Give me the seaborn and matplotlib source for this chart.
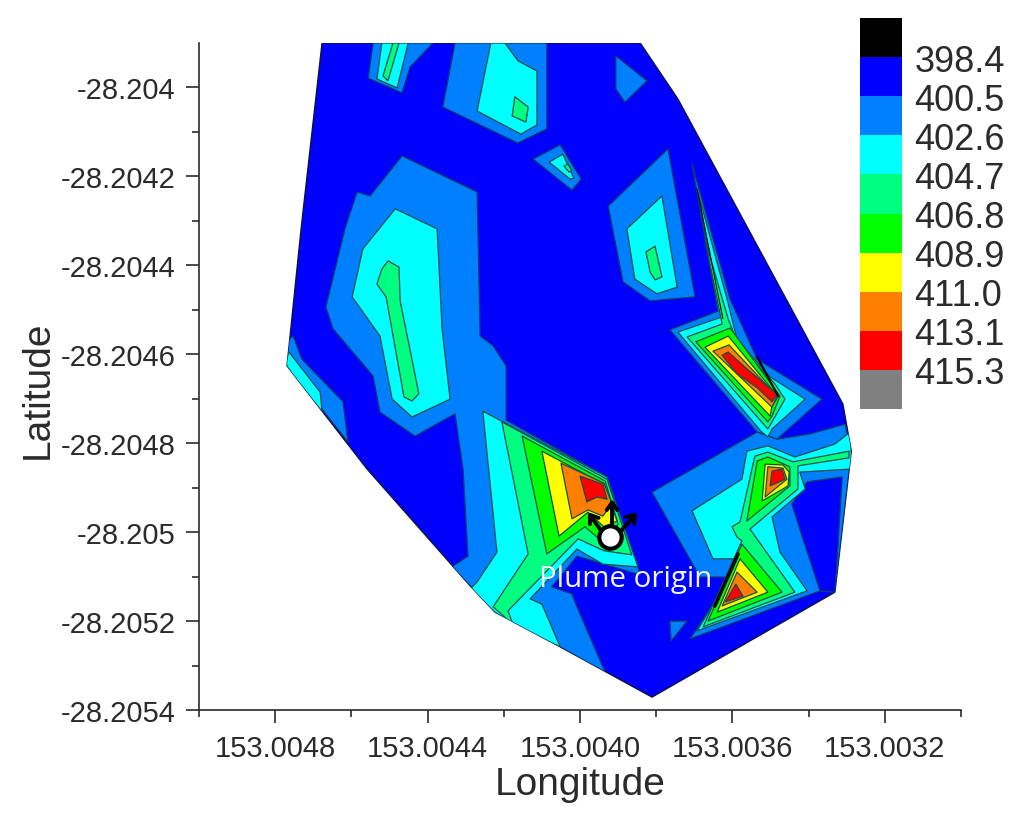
import numpy as np
import pandas as pd
import seaborn as sns
import matplotlib
matplotlib.use("Agg")
import matplotlib.pyplot as plt
from matplotlib.colors import ListedColormap, BoundaryNorm
from matplotlib.patches import Polygon
from matplotlib.ticker import FixedLocator, FixedFormatter

# All outlines: x = microdegrees east of 153 E, y = microdegrees south of 28.2 S
level_ticks = [398.4, 400.5, 402.6, 404.7, 406.8, 408.9, 411.0, 413.1, 415.3]
band_colors = ["#0000ff", "#0080ff", "#00ffff", "#00ff80", "#00ff00", "#ffff00", "#ff8000", "#ff0000"]
below_color, above_color = "#000000", "#808080"

lon_ticks = [153.0048, 153.0044, 153.0040, 153.0036, 153.0032]
lat_ticks = [-28.204, -28.2042, -28.2044, -28.2046, -28.2048, -28.205, -28.2052, -28.2054]
lat_labels = ["-28.204", "-28.2042", "-28.2044", "-28.2046", "-28.2048", "-28.205", "-28.2052", "-28.2054"]

hull_x = [4677, 3842, 3743, 3310, 3288, 3331, 3811, 4052, 4223, 4288, 4559, 4769, 4732]
hull_y = [3900, 3900, 4026, 4712, 4818, 5135, 5371, 5258, 5180, 5121, 4858, 4626, 4318]

# each zone: (band index, x list, y list), listed from the lowest band up
a_mid = (1, [4543, 4556, 4467, 4446, 4386], [3900, 3979, 4012, 3954, 3900])
b_mid = (1, [4328, 4360, 4163, 4087, 4087], [3900, 4044, 4125, 4093, 3900])
c_mid = (1, [4123, 4052, 3997, 4021], [4161, 4129, 4206, 4231])
d_mid = (1, [3906, 3824, 3882, 3906], [3929, 3985, 4033, 4003])
e_mid = (1, [3769, 3926, 3887, 3816, 3698], [4138, 4267, 4437, 4480, 4471])
f_mid = (1, [4467, 4270, 4268, 4262, 4228, 4194, 4194, 3929, 3908, 3848, 3842, 4008, 4074, 4021, 4008, 3934,
             4052, 4176, 4223, 4288, 4336, 4294, 4307, 4328, 4433, 4525, 4543, 4648, 4667, 4617, 4585, 4551],
         [4154, 4235, 4318, 4559, 4581, 4626, 4748, 4876, 4937, 5078, 5096, 5054, 5123, 5139, 5168, 5315,
          5258, 5207, 5180, 5121, 5078, 5054, 4858, 4734, 4784, 4730, 4649, 4543, 4494, 4318, 4235, 4244])
g_mid = (1, [4753, 4730, 4622, 4609, 4769, 4777], [4559, 4611, 4707, 4797, 4626, 4577])
n_mid = (1, [3706, 3606, 3535, 3365, 3483, 3535, 3764, 3638], [4172, 4476, 4611, 4701, 4791, 4775, 4545, 4503])
p_mid = (1, [3535, 3811, 3685, 3601, 3711, 3370, 3331, 3288, 3304, 3396, 3483],
         [4775, 4910, 5101, 5101, 5240, 5132, 5135, 4820, 4757, 4779, 4791])
q_mid = (1, [3764, 3719, 3761], [5200, 5200, 5245])
p_low = (0, [3404, 3312, 3323, 3331, 3370, 3415, 3444], [4887, 4876, 5031, 5135, 5132, 5015, 4937])

a_cyan = (2, [4520, 4533, 4480, 4451], [3900, 3981, 4001, 3900])
b_cyan = (2, [4234, 4270, 4155, 4113, 4113, 4163, 4197], [3900, 4053, 4105, 4084, 3963, 3940, 3900])
c_cyan = (2, [4081, 4045, 4016, 4026], [4168, 4150, 4204, 4206])
e_cyan = (2, [3785, 3877, 3856, 3798, 3745], [4244, 4318, 4431, 4464, 4449])
f_cyan = (2, [4485, 4375, 4362, 4341, 4441, 4493, 4525, 4598, 4570], [4273, 4318, 4543, 4701, 4741, 4701, 4559, 4471, 4363])
g_cyan = (2, [4764, 4682, 4677, 4777], [4595, 4685, 4728, 4629])
h_cyan = (2, [4255, 3929, 3848, 3940, 4008, 4131, 4100, 4052, 4176, 4223, 4288, 4270, 4218],
          [4728, 4876, 5078, 5072, 5038, 5150, 5162, 5258, 5207, 5180, 5128, 5112, 5045])
n_cyan = (2, [3743, 3627, 3693, 3614, 3588, 3501, 3409, 3496, 3507, 3525],
          [4550, 4516, 4228, 4476, 4566, 4651, 4701, 4768, 4786, 4773])
r_cyan = (2, [3706, 3575, 3562, 3507, 3436, 3331, 3291, 3286, 3423, 3409, 3496, 3475, 3404, 3693, 3593, 3585, 3651],
          [4952, 4881, 4818, 4806, 4831, 4802, 4775, 4858, 4865, 4903, 4966, 5045, 5132, 5222, 5083, 5060, 5060])

a_spring = (3, [4491, 4475, 4504, 4517], [3900, 3900, 3985, 3974])
b_spring = (3, [4171, 4178, 4142, 4136], [4021, 4064, 4078, 4044])
c_spring = (3, [4042, 4032, 4021, 4029], [4177, 4172, 4188, 4190])
e_spring = (3, [3803, 3827, 3816, 3803, 3785], [4357, 4370, 4415, 4433, 4426])
f_spring = (3, [4504, 4475, 4472, 4423, 4441, 4462, 4509, 4533, 4520], [4390, 4404, 4480, 4689, 4705, 4696, 4471, 4442, 4408])
g_spring = (3, [4769, 4753, 4769, 4787], [4626, 4649, 4656, 4626])
i_spring = (3, [4205, 4136, 4228, 4176, 4189, 4005, 3937, 3864, 3929], [4752, 5049, 5168, 5207, 5177, 5015, 5042, 5051, 4881])
n_spring = (3, [3719, 3627, 3672, 3611, 3585, 3488, 3462, 3496, 3507], [4561, 4532, 4341, 4521, 4577, 4667, 4701, 4752, 4768])
s_spring = (3, [3541, 3507, 3441, 3294, 3294, 3428, 3428, 3554, 3436, 3677, 3575, 3588, 3601, 3580],
            [4829, 4820, 4842, 4818, 4833, 4851, 4903, 4993, 5135, 5213, 5020, 5011, 4988, 4977])

j_green = (4, [4152, 4087, 3987, 3934, 3900, 3934], [4784, 5049, 4988, 5027, 4982, 4885])
n_green = (4, [3696, 3606, 3475, 3496, 3507], [4572, 4541, 4694, 4739, 4752])
t_green = (4, [3535, 3507, 3449, 3449, 3562], [4840, 4831, 4853, 4896, 4975])
u_green = (4, [3575, 3470, 3664], [5027, 5135, 5200])

k_yellow = (5, [4100, 4055, 3979, 3937, 3903, 3937], [4818, 5009, 4955, 4988, 4975, 4892])
n_yellow = (5, [3672, 3611, 3480, 3496, 3501], [4584, 4559, 4696, 4716, 4739])
t_yellow = (5, [3514, 3467, 3451, 3454, 3522], [4847, 4849, 4865, 4896, 4930])
u_yellow = (5, [3580, 3507, 3640], [5060, 5135, 5180])

l_orange = (6, [4050, 4021, 3979, 3940, 3916, 3937], [4845, 4970, 4950, 4964, 4937, 4890])
n_orange = (6, [3651, 3609, 3483, 3496], [4593, 4579, 4694, 4719])
t_orange = (6, [3507, 3467, 3457, 3514], [4853, 4856, 4881, 4921])
u_orange = (6, [3588, 3535, 3627], [5090, 5135, 5166])

m_red = (7, [4000, 3982, 3955, 3929, 3940], [4874, 4932, 4921, 4926, 4892])
n_red = (7, [3627, 3611, 3555, 3483, 3496, 3535, 3588], [4602, 4595, 4638, 4690, 4707, 4675, 4644])
t_red = (7, [3496, 3470, 3462, 3501], [4863, 4858, 4881, 4896])
u_red = (7, [3591, 3572, 3619], [5117, 5144, 5157])

zones = [a_mid, b_mid, c_mid, d_mid, e_mid, f_mid, g_mid, n_mid, p_mid, q_mid, p_low,
         a_cyan, b_cyan, c_cyan, e_cyan, f_cyan, g_cyan, h_cyan, n_cyan, r_cyan,
         a_spring, b_spring, c_spring, e_spring, f_spring, g_spring, i_spring, n_spring, s_spring,
         j_green, n_green, t_green, u_green,
         k_yellow, n_yellow, t_yellow, u_yellow,
         l_orange, n_orange, t_orange, u_orange,
         m_red, n_red, t_red, u_red]

# places where many contours bunch into one dark line
steep_a_x, steep_a_y = [3585, 3646], [5049, 5166]
steep_b_x, steep_b_y = [3535, 3480], [4606, 4694]
steep_c_x, steep_c_y = [3693, 3625], [4228, 4520]

plume_x, plume_y = [3921], [5011]
arrow_tail_x, arrow_tail_y = [3942, 3916, 3895], [5000, 4988, 5000]
arrow_tip_x, arrow_tip_y = [3979, 3916, 3850], [4955, 4926, 4955]
label_x, label_y = 3879, 5105


def lon(v):
    return 153 + np.asarray(v, dtype=float) * 1e-6


def lat(v):
    return -28.2 - np.asarray(v, dtype=float) * 1e-6


sns.set_theme(style="ticks")
plt.rcParams["font.family"] = ["Liberation Sans", "DejaVu Sans"]
ink = "#2b2b2b"
plt.rcParams.update({"text.color": ink, "axes.labelcolor": ink, "xtick.color": ink, "ytick.color": ink,
                     "axes.edgecolor": ink})

fig = plt.figure(figsize=(10.24, 8.2), dpi=100)
ax = fig.add_axes([199 / 1024, 109 / 820, 762 / 1024, 667 / 820])
ax.set_xlim(153.0050, 153.0030)
ax.set_ylim(-28.2054, -28.2039)

hull = ax.fill(lon(hull_x), lat(hull_y), facecolor=band_colors[0], edgecolor="#101040", lw=1.0, zorder=1)[0]
clip = Polygon(np.c_[lon(hull_x), lat(hull_y)], transform=ax.transData)
for i, (band, xs, ys) in enumerate(zones):
    edge = "#123a6a" if band <= 1 else "#14504a"
    for p in ax.fill(lon(xs), lat(ys), facecolor=band_colors[band], edgecolor=edge, lw=0.9,
                     joinstyle="round", zorder=2 + i * 0.01):
        p.set_clip_path(clip)
for xs, ys, w in [(steep_a_x, steep_a_y, 2.6), (steep_b_x, steep_b_y, 1.6), (steep_c_x, steep_c_y, 0.8)]:
    ax.plot(lon(xs), lat(ys), color="#0a0a0a", lw=w, solid_capstyle="round", zorder=3)

for x0, y0, x1, y1 in zip(arrow_tail_x, arrow_tail_y, arrow_tip_x, arrow_tip_y):
    ax.annotate("", xy=(lon(x1), lat(y1)), xytext=(lon(x0), lat(y0)), zorder=4,
                arrowprops=dict(arrowstyle="->,head_width=0.32,head_length=0.45", color="black", lw=2.8,
                                shrinkA=0, shrinkB=0))
plume = pd.DataFrame({"lon": lon(plume_x), "lat": lat(plume_y)})
sns.scatterplot(data=plume, x="lon", y="lat", ax=ax, s=260, color="white", edgecolor="black",
                linewidth=3, zorder=5, legend=False, clip_on=False)
ax.text(lon(label_x), lat(label_y), "Plume origin", color="#f2f6ff", fontsize=21.2, family=["Open Sans"],
        ha="center", va="center", zorder=6)

sns.despine(ax=ax)
for s in ("left", "bottom"):
    ax.spines[s].set_linewidth(1.2)
ax.xaxis.set_major_locator(FixedLocator(lon_ticks))
ax.xaxis.set_major_formatter(FixedFormatter([f"{v:.4f}" for v in lon_ticks]))
ax.xaxis.set_minor_locator(FixedLocator([153.0050, 153.0046, 153.0042, 153.0038, 153.0034, 153.0030]))
ax.yaxis.set_major_locator(FixedLocator(lat_ticks))
ax.yaxis.set_major_formatter(FixedFormatter(lat_labels))
ax.yaxis.set_minor_locator(FixedLocator([-28.2041, -28.2043, -28.2045, -28.2047, -28.2049, -28.2051, -28.2053]))
ax.tick_params(axis="both", which="major", length=9.5, width=1.2, labelsize=21, pad=7.5)
ax.tick_params(axis="both", which="minor", length=5, width=1.2)
ax.set_xlabel("Longitude", fontsize=28, labelpad=3)
ax.set_ylabel("Latitude", fontsize=28)
ax.yaxis.set_label_coords(-0.1885, 0.481)

cax = fig.add_axes([860 / 1024, (820 - 410) / 820, 42 / 1024, 391 / 820])
cmap = ListedColormap(band_colors)
cmap.set_under(below_color)
cmap.set_over(above_color)
norm = BoundaryNorm(level_ticks, cmap.N)
cb = fig.colorbar(plt.cm.ScalarMappable(norm=norm, cmap=cmap), cax=cax, extend="both", extendrect=True,
                  extendfrac=0.125, spacing="uniform", ticks=level_ticks)
cax.invert_yaxis()
cb.outline.set_visible(False)
cb.set_ticklabels([f"{v:.1f}" for v in level_ticks])
cax.tick_params(length=0, labelsize=26, pad=9)

fig.savefig("out.png", dpi=100, facecolor="white")
